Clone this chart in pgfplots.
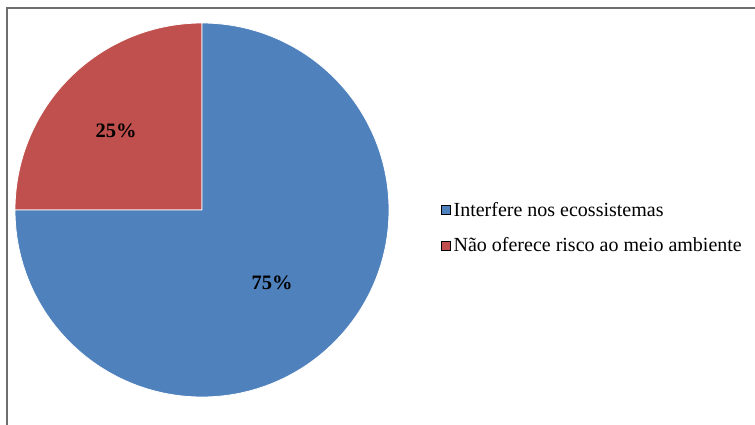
\documentclass[border=0pt]{standalone}
\usepackage{pgfplots}
\usepackage{pgfplotstable}
\pgfplotsset{compat=1.18}
\usepackage{fontspec}
\setmainfont{Liberation Serif}
\definecolor{pieblue}{RGB}{79,129,189}
\definecolor{piered}{RGB}{192,80,77}
\definecolor{framegray}{RGB}{110,110,110}
\pgfplotstableread{
label value
Interfere 75
Nao 25
}\piedata
\begin{document}
\begin{tikzpicture}
\pgfplotstablegetelem{0}{value}\of\piedata \edef\va{\pgfplotsretval}
\pgfplotstablegetelem{1}{value}\of\piedata \edef\vb{\pgfplotsretval}
\pgfmathsetmacro{\angB}{90+\vb*3.6}
\pgfmathsetmacro{\angA}{\angB+\va*3.6}
\useasboundingbox (0,0) rectangle (755pt,424pt);
\begin{axis}[
  at={(0,0)}, anchor=south west,
  width=755pt, height=424pt, scale only axis,
  xmin=0, xmax=755, ymin=0, ymax=424,
  hide axis, clip=false,
  legend cell align=left,
  legend image code/.code={\fill[#1] (0pt,-4.5pt) rectangle (9pt,4.5pt);},
  legend style={draw=none, fill=none, font=\fontsize{20}{22}\selectfont,
    at={(axis cs:441,222)}, anchor=north west, inner sep=0pt,
    row sep=20pt, nodes={inner xsep=3pt, inner ysep=0pt}},
]
\addlegendimage{fill=pieblue}
\addlegendentry{Interfere nos ecossistemas}
\addlegendimage{fill=piered}
\addlegendentry{Não oferece risco ao meio ambiente}
\draw[framegray, line width=2pt] (axis cs:7,-10) -- (axis cs:7,416) -- (axis cs:770,416);
\fill[piered, draw=white, line width=0.8pt] (axis cs:202,214) -- ++(90:187pt) arc[start angle=90, end angle=\angB, radius=187pt] -- cycle;
\fill[pieblue, draw=white, line width=0.8pt] (axis cs:202,214) -- ++(\angB:187pt) arc[start angle=\angB, end angle=\angA, radius=187pt] -- cycle;
\node[font=\fontsize{20.5}{22}\selectfont\bfseries] at (axis cs:116,293) {25\%};
\node[font=\fontsize{20.5}{22}\selectfont\bfseries] at (axis cs:272,141) {75\%};
\end{axis}
\end{tikzpicture}
\end{document}
